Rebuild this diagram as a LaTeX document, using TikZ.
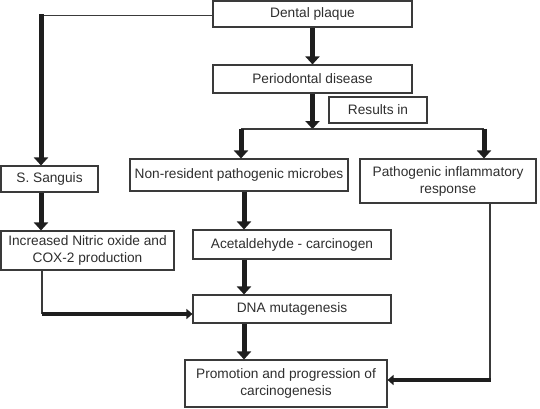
\documentclass[tikz,border=0pt]{standalone}
\usepackage{fontspec}
\setmainfont{Liberation Sans}
\usetikzlibrary{positioning,arrows.meta}
\definecolor{boxline}{HTML}{3A3A3A}
\definecolor{txt}{HTML}{2E2E2E}
\definecolor{arr}{HTML}{1E1E1E}

\begin{document}
\begin{tikzpicture}[x=1pt,y=-1pt]

        % Pixel grid of the page, y runs downwards
        \def\lx{41}
        \def\mx{244}

        \tikzset{box/.style={draw=boxline, line width=1.1pt, text=txt,
                inner sep=0pt, align=center,
                font=\fontsize{13.7}{17}\selectfont},
            bigarrow/.style={draw=arr, line width=5pt,
                -{Triangle[width=14pt,length=8pt]}},
            sidearrow/.style={draw=arr, line width=4pt,
                -{Triangle[width=10pt,length=6pt]}},
            thinline/.style={draw=boxline, line width=1.1pt}}

        \useasboundingbox (0,0) rectangle (540,408);

        % Boxes of the chart
        \begin{scope}
            \node[box, minimum width=199pt, minimum height=26pt] (plaque) at (312.5,14)
            {Dental plaque};
            \node[box, minimum width=199pt, minimum height=28pt] (perio) at (312.5,79)
            {Periodontal disease};
            \node[box, minimum width=98pt, minimum height=26pt] (results) at (378,110)
            {Results in};
            \node[box, minimum width=97pt, minimum height=26pt] (sang) at (49.5,179)
            {S. Sanguis};
            \node[box, minimum width=218pt, minimum height=32pt] (nonres) at (239,175)
            {Non-resident pathogenic microbes};
            \node[box, minimum width=176pt, minimum height=44pt] (inflam) at (448,181)
            {Pathogenic inflammatory\\response};
            \node[box, minimum width=173pt, minimum height=39pt] (nitric) at (87.5,250.5)
            {Increased Nitric oxide and\\COX-2 production};
            \node[box, minimum width=198pt, minimum height=29pt] (acet) at (292,244.5)
            {Acetaldehyde - carcinogen};
            \node[box, minimum width=198pt, minimum height=28pt] (dna) at (292,309)
            {DNA mutagenesis};
            \node[box, minimum width=202pt, minimum height=47pt] (promo) at (286,383.5)
            {Promotion and progression of\\carcinogenesis};
        \end{scope}

        % Turning points of the connectors
        \coordinate (split) at (312.5,129);
        \coordinate (splitl) at (241,129);
        \coordinate (splitr) at (484,129);
        \coordinate (left) at (\lx,15.5);
        \coordinate (mid) at (\mx,0);
        \coordinate (nbend) at (42,314);
        \coordinate (ibend) at (490,380);

        \begin{scope}
            \draw[bigarrow] (plaque) -- (perio);
            \draw[bigarrow] (perio) -- (split);
            \draw[thinline] (splitl) -- (splitr);
            \draw[bigarrow] ([yshift=0.5pt]splitl) -- (splitl |- nonres.north);
            \draw[bigarrow] ([yshift=0.5pt]splitr) -- (splitr |- inflam.north);

            \draw[thinline] (plaque.west |- left) -- (left);
            \draw[bigarrow] ([yshift=1.5pt]left) -- (left |- sang.north);
            \draw[bigarrow] (left |- sang.south) -- (left |- nitric.north);

            \draw[bigarrow] (mid |- nonres.south) -- (mid |- acet.north);
            \draw[bigarrow] (mid |- acet.south) -- (mid |- dna.north);
            \draw[bigarrow] (mid |- dna.south) -- (mid |- promo.north);

            \draw[thinline] (nbend |- nitric.south) -- (nbend);
            \draw[sidearrow] ([xshift=-0.5pt]nbend) -- (nbend -| dna.west);
            \draw[thinline] (ibend |- inflam.south) -- (ibend);
            \draw[sidearrow] ([xshift=0.5pt]ibend) -- (ibend -| promo.east);
        \end{scope}

\end{tikzpicture}
\end{document}
